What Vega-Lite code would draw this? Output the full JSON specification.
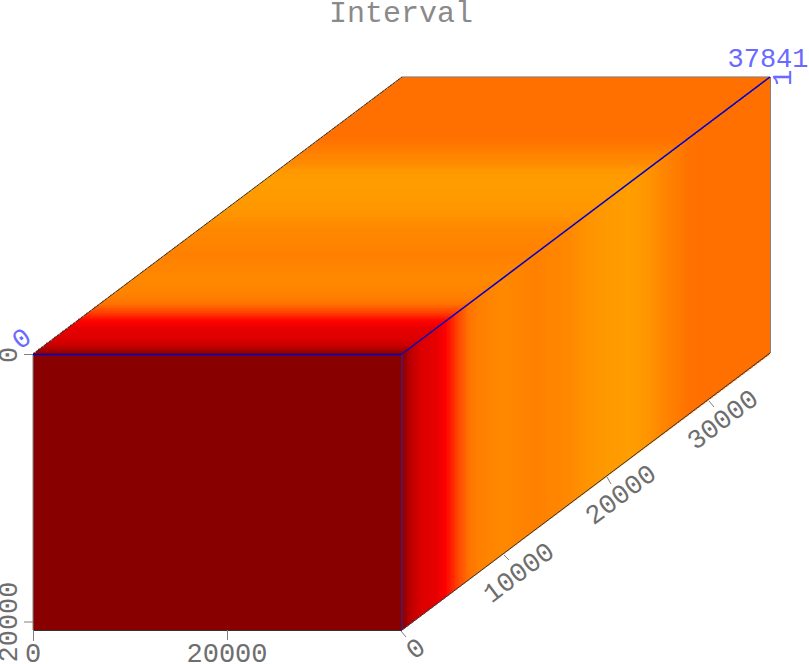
{"$schema":"https://vega.github.io/schema/vega-lite/v6.json","width":809,"height":664,"padding":0,"autosize":{"type":"none"},"background":"white","view":{"stroke":null},
"datasets":{
"top":[
{"x":33,"x2":402,"y":354,"v":0},{"x":36,"x2":405,"y":352,"v":0.04},{"x":38,"x2":407,"y":350,"v":0.08},{"x":41,"x2":410,"y":348,"v":0.12},{"x":44,"x2":413,"y":346,"v":0.16},{"x":46,"x2":415,"y":344,"v":0.19},{"x":49,"x2":418,"y":342,"v":0.21},{"x":52,"x2":421,"y":340,"v":0.24},{"x":54,"x2":423,"y":338,"v":0.26},{"x":57,"x2":426,"y":336,"v":0.28},
{"x":60,"x2":429,"y":334,"v":0.3},{"x":62,"x2":431,"y":332,"v":0.31},{"x":65,"x2":434,"y":330,"v":0.33},{"x":68,"x2":437,"y":328,"v":0.35},{"x":70,"x2":439,"y":326,"v":0.38},{"x":73,"x2":442,"y":324,"v":0.41},{"x":76,"x2":445,"y":322,"v":0.44},{"x":78,"x2":447,"y":320,"v":0.46},{"x":81,"x2":450,"y":318,"v":0.48},{"x":84,"x2":453,"y":316,"v":0.5},
{"x":86,"x2":455,"y":314,"v":0.52},{"x":89,"x2":458,"y":312,"v":0.54},{"x":92,"x2":461,"y":310,"v":0.56},{"x":94,"x2":463,"y":308,"v":0.59},{"x":97,"x2":466,"y":306,"v":0.62},{"x":100,"x2":469,"y":304,"v":0.65},{"x":102,"x2":471,"y":302,"v":0.68},{"x":105,"x2":474,"y":300,"v":0.7},{"x":108,"x2":477,"y":298,"v":0.73},{"x":110,"x2":479,"y":296,"v":0.75},
{"x":113,"x2":482,"y":294,"v":0.76},{"x":116,"x2":485,"y":292,"v":0.77},{"x":118,"x2":487,"y":290,"v":0.79},{"x":121,"x2":490,"y":288,"v":0.8},{"x":124,"x2":493,"y":286,"v":0.81},{"x":126,"x2":495,"y":284,"v":0.82},{"x":129,"x2":498,"y":282,"v":0.83},{"x":132,"x2":501,"y":280,"v":0.84},{"x":134,"x2":503,"y":278,"v":0.85},{"x":137,"x2":506,"y":276,"v":0.84},
{"x":140,"x2":509,"y":274,"v":0.83},{"x":142,"x2":511,"y":272,"v":0.82},{"x":145,"x2":514,"y":270,"v":0.81},{"x":148,"x2":517,"y":268,"v":0.8},{"x":150,"x2":519,"y":266,"v":0.8},{"x":153,"x2":522,"y":264,"v":0.79},{"x":156,"x2":525,"y":262,"v":0.78},{"x":158,"x2":527,"y":260,"v":0.77},{"x":161,"x2":530,"y":258,"v":0.77},{"x":164,"x2":533,"y":256,"v":0.76},
{"x":166,"x2":535,"y":254,"v":0.75},{"x":169,"x2":538,"y":252,"v":0.76},{"x":172,"x2":541,"y":250,"v":0.77},{"x":174,"x2":543,"y":248,"v":0.77},{"x":177,"x2":546,"y":246,"v":0.78},{"x":180,"x2":549,"y":244,"v":0.79},{"x":182,"x2":551,"y":242,"v":0.8},{"x":185,"x2":554,"y":240,"v":0.8},{"x":188,"x2":557,"y":238,"v":0.81},{"x":190,"x2":559,"y":236,"v":0.82},
{"x":193,"x2":562,"y":234,"v":0.83},{"x":196,"x2":565,"y":232,"v":0.83},{"x":198,"x2":567,"y":230,"v":0.84},{"x":201,"x2":570,"y":228,"v":0.85},{"x":204,"x2":573,"y":226,"v":0.86},{"x":206,"x2":575,"y":224,"v":0.87},{"x":209,"x2":578,"y":222,"v":0.88},{"x":212,"x2":581,"y":220,"v":0.9},{"x":214,"x2":583,"y":218,"v":0.91},{"x":217,"x2":586,"y":216,"v":0.92},
{"x":220,"x2":589,"y":214,"v":0.93},{"x":222,"x2":591,"y":212,"v":0.93},{"x":225,"x2":594,"y":210,"v":0.94},{"x":228,"x2":597,"y":208,"v":0.95},{"x":230,"x2":599,"y":206,"v":0.95},{"x":233,"x2":602,"y":204,"v":0.96},{"x":236,"x2":605,"y":202,"v":0.96},{"x":238,"x2":607,"y":200,"v":0.97},{"x":241,"x2":610,"y":198,"v":0.97},{"x":244,"x2":613,"y":196,"v":0.97},
{"x":246,"x2":615,"y":194,"v":0.98},{"x":249,"x2":618,"y":192,"v":0.98},{"x":252,"x2":621,"y":190,"v":0.99},{"x":254,"x2":623,"y":188,"v":0.99},{"x":257,"x2":626,"y":186,"v":0.99},{"x":260,"x2":629,"y":184,"v":1},{"x":262,"x2":631,"y":182,"v":1},{"x":265,"x2":634,"y":180,"v":0.99},{"x":268,"x2":637,"y":178,"v":0.98},{"x":270,"x2":639,"y":176,"v":0.97},
{"x":273,"x2":642,"y":174,"v":0.97},{"x":276,"x2":645,"y":172,"v":0.96},{"x":278,"x2":647,"y":170,"v":0.95},{"x":281,"x2":650,"y":168,"v":0.93},{"x":284,"x2":653,"y":166,"v":0.9},{"x":286,"x2":655,"y":164,"v":0.88},{"x":289,"x2":658,"y":162,"v":0.86},{"x":292,"x2":661,"y":160,"v":0.84},{"x":294,"x2":663,"y":158,"v":0.81},{"x":297,"x2":666,"y":156,"v":0.79},
{"x":300,"x2":669,"y":154,"v":0.77},{"x":302,"x2":671,"y":152,"v":0.75},{"x":305,"x2":674,"y":150,"v":0.74},{"x":308,"x2":677,"y":148,"v":0.72},{"x":310,"x2":679,"y":146,"v":0.71},{"x":313,"x2":682,"y":144,"v":0.69},{"x":316,"x2":685,"y":142,"v":0.68},{"x":318,"x2":687,"y":140,"v":0.67},{"x":321,"x2":690,"y":138,"v":0.66},{"x":324,"x2":693,"y":136,"v":0.655},
{"x":326,"x2":695,"y":134,"v":0.65},{"x":329,"x2":698,"y":132,"v":0.65},{"x":332,"x2":701,"y":130,"v":0.65},{"x":334,"x2":703,"y":128,"v":0.65},{"x":337,"x2":706,"y":126,"v":0.65},{"x":340,"x2":709,"y":124,"v":0.65},{"x":342,"x2":711,"y":122,"v":0.65},{"x":345,"x2":714,"y":120,"v":0.65},{"x":348,"x2":717,"y":118,"v":0.65},{"x":350,"x2":719,"y":116,"v":0.65},
{"x":353,"x2":722,"y":114,"v":0.65},{"x":356,"x2":725,"y":112,"v":0.65},{"x":358,"x2":727,"y":110,"v":0.65},{"x":361,"x2":730,"y":108,"v":0.65},{"x":364,"x2":733,"y":106,"v":0.65},{"x":366,"x2":735,"y":104,"v":0.65},{"x":369,"x2":738,"y":102,"v":0.65},{"x":372,"x2":741,"y":100,"v":0.65},{"x":374,"x2":743,"y":98,"v":0.65},{"x":377,"x2":746,"y":96,"v":0.65},
{"x":380,"x2":749,"y":94,"v":0.65},{"x":382,"x2":751,"y":92,"v":0.65},{"x":385,"x2":754,"y":90,"v":0.65},{"x":388,"x2":757,"y":88,"v":0.65},{"x":390,"x2":759,"y":86,"v":0.65},{"x":393,"x2":762,"y":84,"v":0.65},{"x":396,"x2":765,"y":82,"v":0.65},{"x":398,"x2":767,"y":80,"v":0.65},{"x":401,"x2":770,"y":78,"v":0.65}
],
"side":[
{"x":402,"y":354,"y2":630,"v":0},{"x":404,"y":352.5,"y2":628.5,"v":0.03},{"x":406,"y":351,"y2":627,"v":0.06},{"x":408,"y":349.5,"y2":625.5,"v":0.09},{"x":410,"y":348,"y2":624,"v":0.12},{"x":412,"y":346.5,"y2":622.5,"v":0.15},{"x":414,"y":345,"y2":621,"v":0.17},{"x":416,"y":343.5,"y2":619.5,"v":0.19},{"x":418,"y":342,"y2":618,"v":0.21},{"x":420,"y":340.5,"y2":616.5,"v":0.23},
{"x":422,"y":339,"y2":615,"v":0.25},{"x":424,"y":337.5,"y2":613.5,"v":0.26},{"x":426,"y":336,"y2":612,"v":0.28},{"x":428,"y":334.5,"y2":610.5,"v":0.29},{"x":430,"y":333,"y2":609,"v":0.31},{"x":432,"y":331.5,"y2":607.5,"v":0.32},{"x":434,"y":330,"y2":606,"v":0.34},{"x":436,"y":328.5,"y2":604.5,"v":0.35},{"x":438,"y":327,"y2":603,"v":0.37},{"x":440,"y":325.5,"y2":601.5,"v":0.39},
{"x":442,"y":324,"y2":600,"v":0.41},{"x":444,"y":322.5,"y2":598.5,"v":0.43},{"x":446,"y":321,"y2":597,"v":0.45},{"x":448,"y":319.5,"y2":595.5,"v":0.47},{"x":450,"y":318,"y2":594,"v":0.48},{"x":452,"y":316.5,"y2":592.5,"v":0.5},{"x":454,"y":315,"y2":591,"v":0.51},{"x":456,"y":313.5,"y2":589.5,"v":0.53},{"x":458,"y":312,"y2":588,"v":0.54},{"x":460,"y":310.5,"y2":586.5,"v":0.56},
{"x":462,"y":309,"y2":585,"v":0.58},{"x":464,"y":307.5,"y2":583.5,"v":0.6},{"x":466,"y":306,"y2":582,"v":0.62},{"x":468,"y":304.5,"y2":580.5,"v":0.65},{"x":470,"y":303,"y2":579,"v":0.67},{"x":472,"y":301.5,"y2":577.5,"v":0.69},{"x":474,"y":300,"y2":576,"v":0.7},{"x":476,"y":298.5,"y2":574.5,"v":0.72},{"x":478,"y":297,"y2":573,"v":0.74},{"x":480,"y":295.5,"y2":571.5,"v":0.75},
{"x":482,"y":294,"y2":570,"v":0.76},{"x":484,"y":292.5,"y2":568.5,"v":0.76},{"x":486,"y":291,"y2":567,"v":0.77},{"x":488,"y":289.5,"y2":565.5,"v":0.78},{"x":490,"y":288,"y2":564,"v":0.79},{"x":492,"y":286.5,"y2":562.5,"v":0.8},{"x":494,"y":285,"y2":561,"v":0.81},{"x":496,"y":283.5,"y2":559.5,"v":0.82},{"x":498,"y":282,"y2":558,"v":0.83},{"x":500,"y":280.5,"y2":556.5,"v":0.84},
{"x":502,"y":279,"y2":555,"v":0.85},{"x":504,"y":277.5,"y2":553.5,"v":0.84},{"x":506,"y":276,"y2":552,"v":0.84},{"x":508,"y":274.5,"y2":550.5,"v":0.83},{"x":510,"y":273,"y2":549,"v":0.83},{"x":512,"y":271.5,"y2":547.5,"v":0.82},{"x":514,"y":270,"y2":546,"v":0.81},{"x":516,"y":268.5,"y2":544.5,"v":0.81},{"x":518,"y":267,"y2":543,"v":0.8},{"x":520,"y":265.5,"y2":541.5,"v":0.8},
{"x":522,"y":264,"y2":540,"v":0.79},{"x":524,"y":262.5,"y2":538.5,"v":0.78},{"x":526,"y":261,"y2":537,"v":0.78},{"x":528,"y":259.5,"y2":535.5,"v":0.77},{"x":530,"y":258,"y2":534,"v":0.77},{"x":532,"y":256.5,"y2":532.5,"v":0.76},{"x":534,"y":255,"y2":531,"v":0.75},{"x":536,"y":253.5,"y2":529.5,"v":0.75},{"x":538,"y":252,"y2":528,"v":0.76},{"x":540,"y":250.5,"y2":526.5,"v":0.76},
{"x":542,"y":249,"y2":525,"v":0.77},{"x":544,"y":247.5,"y2":523.5,"v":0.77},{"x":546,"y":246,"y2":522,"v":0.78},{"x":548,"y":244.5,"y2":520.5,"v":0.79},{"x":550,"y":243,"y2":519,"v":0.79},{"x":552,"y":241.5,"y2":517.5,"v":0.8},{"x":554,"y":240,"y2":516,"v":0.8},{"x":556,"y":238.5,"y2":514.5,"v":0.81},{"x":558,"y":237,"y2":513,"v":0.81},{"x":560,"y":235.5,"y2":511.5,"v":0.82},
{"x":562,"y":234,"y2":510,"v":0.83},{"x":564,"y":232.5,"y2":508.5,"v":0.83},{"x":566,"y":231,"y2":507,"v":0.84},{"x":568,"y":229.5,"y2":505.5,"v":0.84},{"x":570,"y":228,"y2":504,"v":0.85},{"x":572,"y":226.5,"y2":502.5,"v":0.86},{"x":574,"y":225,"y2":501,"v":0.87},{"x":576,"y":223.5,"y2":499.5,"v":0.88},{"x":578,"y":222,"y2":498,"v":0.88},{"x":580,"y":220.5,"y2":496.5,"v":0.89},
{"x":582,"y":219,"y2":495,"v":0.9},{"x":584,"y":217.5,"y2":493.5,"v":0.91},{"x":586,"y":216,"y2":492,"v":0.92},{"x":588,"y":214.5,"y2":490.5,"v":0.92},{"x":590,"y":213,"y2":489,"v":0.93},{"x":592,"y":211.5,"y2":487.5,"v":0.93},{"x":594,"y":210,"y2":486,"v":0.94},{"x":596,"y":208.5,"y2":484.5,"v":0.94},{"x":598,"y":207,"y2":483,"v":0.95},{"x":600,"y":205.5,"y2":481.5,"v":0.95},
{"x":602,"y":204,"y2":480,"v":0.96},{"x":604,"y":202.5,"y2":478.5,"v":0.96},{"x":606,"y":201,"y2":477,"v":0.97},{"x":608,"y":199.5,"y2":475.5,"v":0.97},{"x":610,"y":198,"y2":474,"v":0.97},{"x":612,"y":196.5,"y2":472.5,"v":0.97},{"x":614,"y":195,"y2":471,"v":0.98},{"x":616,"y":193.5,"y2":469.5,"v":0.98},{"x":618,"y":192,"y2":468,"v":0.98},{"x":620,"y":190.5,"y2":466.5,"v":0.98},
{"x":622,"y":189,"y2":465,"v":0.99},{"x":624,"y":187.5,"y2":463.5,"v":0.99},{"x":626,"y":186,"y2":462,"v":0.99},{"x":628,"y":184.5,"y2":460.5,"v":1},{"x":630,"y":183,"y2":459,"v":1},{"x":632,"y":181.5,"y2":457.5,"v":0.99},{"x":634,"y":180,"y2":456,"v":0.99},{"x":636,"y":178.5,"y2":454.5,"v":0.98},{"x":638,"y":177,"y2":453,"v":0.98},{"x":640,"y":175.5,"y2":451.5,"v":0.97},
{"x":642,"y":174,"y2":450,"v":0.96},{"x":644,"y":172.5,"y2":448.5,"v":0.96},{"x":646,"y":171,"y2":447,"v":0.95},{"x":648,"y":169.5,"y2":445.5,"v":0.93},{"x":650,"y":168,"y2":444,"v":0.93},{"x":652,"y":166.5,"y2":442.5,"v":0.91},{"x":654,"y":165,"y2":441,"v":0.9},{"x":656,"y":163.5,"y2":439.5,"v":0.88},{"x":658,"y":162,"y2":438,"v":0.87},{"x":660,"y":160.5,"y2":436.5,"v":0.85},
{"x":662,"y":159,"y2":435,"v":0.83},{"x":664,"y":157.5,"y2":433.5,"v":0.81},{"x":666,"y":156,"y2":432,"v":0.79},{"x":668,"y":154.5,"y2":430.5,"v":0.77},{"x":670,"y":153,"y2":429,"v":0.76},{"x":672,"y":151.5,"y2":427.5,"v":0.75},{"x":674,"y":150,"y2":426,"v":0.74},{"x":676,"y":148.5,"y2":424.5,"v":0.73},{"x":678,"y":147,"y2":423,"v":0.72},{"x":680,"y":145.5,"y2":421.5,"v":0.71},
{"x":682,"y":144,"y2":420,"v":0.7},{"x":684,"y":142.5,"y2":418.5,"v":0.69},{"x":686,"y":141,"y2":417,"v":0.68},{"x":688,"y":139.5,"y2":415.5,"v":0.67},{"x":690,"y":138,"y2":414,"v":0.665},{"x":692,"y":136.5,"y2":412.5,"v":0.66},{"x":694,"y":135,"y2":411,"v":0.655},{"x":696,"y":133.5,"y2":409.5,"v":0.65},{"x":698,"y":132,"y2":408,"v":0.65},{"x":700,"y":130.5,"y2":406.5,"v":0.65},
{"x":702,"y":129,"y2":405,"v":0.65},{"x":704,"y":127.5,"y2":403.5,"v":0.65},{"x":706,"y":126,"y2":402,"v":0.65},{"x":708,"y":124.5,"y2":400.5,"v":0.65},{"x":710,"y":123,"y2":399,"v":0.65},{"x":712,"y":121.5,"y2":397.5,"v":0.65},{"x":714,"y":120,"y2":396,"v":0.65},{"x":716,"y":118.5,"y2":394.5,"v":0.65},{"x":718,"y":117,"y2":393,"v":0.65},{"x":720,"y":115.5,"y2":391.5,"v":0.65},
{"x":722,"y":114,"y2":390,"v":0.65},{"x":724,"y":112.5,"y2":388.5,"v":0.65},{"x":726,"y":111,"y2":387,"v":0.65},{"x":728,"y":109.5,"y2":385.5,"v":0.65},{"x":730,"y":108,"y2":384,"v":0.65},{"x":732,"y":106.5,"y2":382.5,"v":0.65},{"x":734,"y":105,"y2":381,"v":0.65},{"x":736,"y":103.5,"y2":379.5,"v":0.65},{"x":738,"y":102,"y2":378,"v":0.65},{"x":740,"y":100.5,"y2":376.5,"v":0.65},
{"x":742,"y":99,"y2":375,"v":0.65},{"x":744,"y":97.5,"y2":373.5,"v":0.65},{"x":746,"y":96,"y2":372,"v":0.65},{"x":748,"y":94.5,"y2":370.5,"v":0.65},{"x":750,"y":93,"y2":369,"v":0.65},{"x":752,"y":91.5,"y2":367.5,"v":0.65},{"x":754,"y":90,"y2":366,"v":0.65},{"x":756,"y":88.5,"y2":364.5,"v":0.65},{"x":758,"y":87,"y2":363,"v":0.65},{"x":760,"y":85.5,"y2":361.5,"v":0.65},
{"x":762,"y":84,"y2":360,"v":0.65},{"x":764,"y":82.5,"y2":358.5,"v":0.65},{"x":766,"y":81,"y2":357,"v":0.65},{"x":768,"y":79.5,"y2":355.5,"v":0.65},{"x":769,"y":78,"y2":354,"v":0.65}
]},
"resolve":{"scale":{"color":"shared"}},
"layer":[
{"data":{"name":"top"},"mark":{"type":"rule","strokeWidth":2.6},"encoding":{
"x":{"field":"x","type":"quantitative","scale":{"domain":[0,809],"nice":false,"zero":false},"axis":null},
"x2":{"field":"x2"},
"y":{"field":"y","type":"quantitative","scale":{"domain":[664,0],"nice":false,"zero":false},"axis":null},
"color":{"field":"v","type":"quantitative","legend":null,"scale":{"domain":[0,0.15,0.25,0.35,0.45,0.55,0.65,0.75,0.85,1],"range":["#880000","#c00000","#dd0000","#e60000","#ff0000","#ff4a00","#ff7000","#ff8000","#ff8900","#ff9e00"],"interpolate":"rgb"}}}},
{"data":{"name":"side"},"mark":{"type":"rule","strokeWidth":2.6},"encoding":{
"x":{"field":"x","type":"quantitative"},"y":{"field":"y","type":"quantitative"},"y2":{"field":"y2"},
"color":{"field":"v","type":"quantitative","legend":null}}},
{"data":{"values":[{"x":33,"x2":402,"y":354,"y2":630,"v":0}]},"mark":{"type":"rect"},"encoding":{
"x":{"field":"x","type":"quantitative"},"x2":{"field":"x2"},"y":{"field":"y","type":"quantitative"},"y2":{"field":"y2"},
"color":{"field":"v","type":"quantitative","legend":null}}},
{"data":{"values":[{"x":33,"y":354,"x2":402,"y2":77},{"x":402,"y":630,"x2":770,"y2":353},{"x":33,"y":630.5,"x2":402,"y2":630.5}]},"mark":{"type":"rule","strokeWidth":1,"color":"#333333"},"encoding":{
"x":{"field":"x","type":"quantitative"},"x2":{"field":"x2"},"y":{"field":"y","type":"quantitative"},"y2":{"field":"y2"}}},
{"data":{"values":[{"x":402,"y":77,"x2":770,"y2":77},{"x":770.5,"y":77,"x2":770.5,"y2":353},{"x":33,"y":354,"x2":33,"y2":630},
{"x":24,"y":354.5,"x2":33,"y2":354.5},{"x":24,"y":622,"x2":33,"y2":622},{"x":33.5,"y":630,"x2":33.5,"y2":641},{"x":227.5,"y":630,"x2":227.5,"y2":640},
{"x":401,"y":631,"x2":406,"y2":637},{"x":504,"y":555,"x2":509,"y2":560},{"x":607,"y":477,"x2":611,"y2":484},{"x":709,"y":401,"x2":714,"y2":407}]},"mark":{"type":"rule","strokeWidth":1,"color":"#808080"},"encoding":{
"x":{"field":"x","type":"quantitative"},"x2":{"field":"x2"},"y":{"field":"y","type":"quantitative"},"y2":{"field":"y2"}}},
{"data":{"values":[{"x":33,"y":354.5,"x2":402,"y2":354.5},{"x":402,"y":354,"x2":770,"y2":77}]},"mark":{"type":"rule","strokeWidth":1.5,"color":"#0000c8"},"encoding":{
"x":{"field":"x","type":"quantitative"},"x2":{"field":"x2"},"y":{"field":"y","type":"quantitative"},"y2":{"field":"y2"}}},
{"data":{"values":[{"x":402,"y":354,"x2":402,"y2":630}]},"mark":{"type":"rule","strokeWidth":1,"color":"#2a2ab0"},"encoding":{
"x":{"field":"x","type":"quantitative"},"x2":{"field":"x2"},"y":{"field":"y","type":"quantitative"},"y2":{"field":"y2"}}},
{"data":{"values":[{"x":401,"y":13,"label":"Interval"}]},"mark":{"type":"text","font":"Liberation Mono","fontSize":30,"color":"#8a8a8a","align":"center","baseline":"middle"},"encoding":{
"x":{"field":"x","type":"quantitative"},"y":{"field":"y","type":"quantitative"},"text":{"field":"label"}}},
{"data":{"values":[{"x":33,"y":654,"label":"0"},{"x":227,"y":654,"label":"20000"}]},"mark":{"type":"text","font":"Liberation Mono","fontSize":27,"color":"#6e6e6e","align":"center","baseline":"middle"},"encoding":{
"x":{"field":"x","type":"quantitative"},"y":{"field":"y","type":"quantitative"},"text":{"field":"label"}}},
{"data":{"values":[{"x":9,"y":355,"label":"0"},{"x":9,"y":622,"label":"20000"}]},"mark":{"type":"text","font":"Liberation Mono","fontSize":27,"color":"#6e6e6e","align":"center","baseline":"middle","angle":270},"encoding":{
"x":{"field":"x","type":"quantitative"},"y":{"field":"y","type":"quantitative"},"text":{"field":"label"}}},
{"data":{"values":[{"x":416,"y":649,"label":"0"},{"x":519,"y":573,"label":"10000"},{"x":621,"y":495,"label":"20000"},{"x":723,"y":420,"label":"30000"}]},"mark":{"type":"text","font":"Liberation Mono","fontSize":27,"color":"#6e6e6e","align":"center","baseline":"middle","angle":323},"encoding":{
"x":{"field":"x","type":"quantitative"},"y":{"field":"y","type":"quantitative"},"text":{"field":"label"}}},
{"data":{"values":[{"x":22,"y":339,"label":"0"}]},"mark":{"type":"text","font":"Liberation Mono","fontSize":27,"color":"#6a6aff","align":"center","baseline":"middle","angle":323},"encoding":{
"x":{"field":"x","type":"quantitative"},"y":{"field":"y","type":"quantitative"},"text":{"field":"label"}}},
{"data":{"values":[{"x":768,"y":59,"label":"37841"}]},"mark":{"type":"text","font":"Liberation Mono","fontSize":27,"color":"#6a6aff","align":"center","baseline":"middle"},"encoding":{
"x":{"field":"x","type":"quantitative"},"y":{"field":"y","type":"quantitative"},"text":{"field":"label"}}},
{"data":{"values":[{"x":783,"y":78,"label":"1"}]},"mark":{"type":"text","font":"Liberation Mono","fontSize":27,"color":"#6a6aff","align":"center","baseline":"middle","angle":270},"encoding":{
"x":{"field":"x","type":"quantitative"},"y":{"field":"y","type":"quantitative"},"text":{"field":"label"}}}
]}
